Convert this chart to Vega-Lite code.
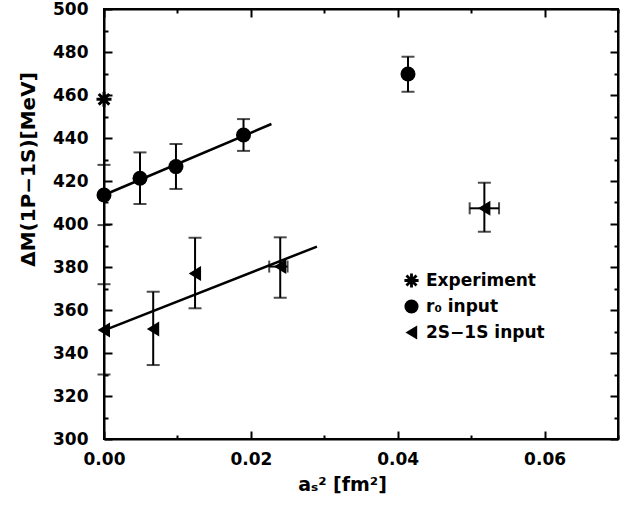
{
  "$schema": "https://vega.github.io/schema/vega-lite/v6.json",
  "autosize": "none",
  "padding": {"left": 104, "top": 9, "right": 22, "bottom": 69},
  "width": 514,
  "height": 430,
  "background": "white",
  "config": {
    "view": {"stroke": "black", "strokeWidth": 2},
    "axis": {
      "domainColor": "black", "domainWidth": 2,
      "tickColor": "black", "tickWidth": 2,
      "grid": false,
      "labelFont": "DejaVu Sans", "labelFontWeight": "bold", "labelFontSize": 17, "labelColor": "black",
      "titleFont": "DejaVu Sans", "titleFontWeight": "bold", "titleColor": "black"
    },
    "legend": {
      "labelFont": "DejaVu Sans", "labelFontWeight": "bold", "labelFontSize": 17, "labelColor": "black"
    }
  },
  "datasets": {
    "pts": [
      {"series": "Experiment", "x": 0, "y": 458},
      {"series": "r₀ input", "x": 0, "y": 413.5, "ylo": 399.5, "yhi": 427.5},
      {"series": "r₀ input", "x": 0.0049, "y": 421.3, "ylo": 409.3, "yhi": 433.3},
      {"series": "r₀ input", "x": 0.0098, "y": 426.7, "ylo": 416.3, "yhi": 437.2},
      {"series": "r₀ input", "x": 0.019, "y": 441.4, "ylo": 434, "yhi": 448.8},
      {"series": "r₀ input", "x": 0.0414, "y": 469.8, "ylo": 461.5, "yhi": 477.8},
      {"series": "2S−1S input", "x": 0, "y": 350.7, "ylo": 330, "yhi": 372},
      {"series": "2S−1S input", "x": 0.0067, "y": 351.2, "ylo": 334.4, "yhi": 368.5},
      {"series": "2S−1S input", "x": 0.0124, "y": 377, "ylo": 360.8, "yhi": 393.6},
      {"series": "2S−1S input", "x": 0.024, "y": 380.2, "ylo": 365.7, "yhi": 393.8, "xlo": 0.0225, "xhi": 0.025},
      {"series": "2S−1S input", "x": 0.0518, "y": 407.3, "ylo": 396.4, "yhi": 419.2, "xlo": 0.0498, "xhi": 0.0538}
    ],
    "fits": [
      {"fit": "r0", "x": 0, "y": 413.5},
      {"fit": "r0", "x": 0.0228, "y": 446.5},
      {"fit": "2S", "x": 0, "y": 350.5},
      {"fit": "2S", "x": 0.029, "y": 389.5}
    ]
  },
  "resolve": {"axis": {"x": "independent", "y": "independent"}},
  "layer": [
    {
      "data": {"name": "pts"},
      "mark": {"type": "rule", "color": "black", "strokeWidth": 2},
      "encoding": {
        "x": {"field": "x", "type": "quantitative",
          "scale": {"domain": [0, 0.07], "nice": false, "zero": false},
          "axis": {
            "orient": "bottom",
            "values": [0, 0.01, 0.02, 0.03, 0.04, 0.05, 0.06, 0.07],
            "format": ".2f",
            "labelExpr": "round(datum.value*100) % 2 === 0 && datum.value < 0.065 ? datum.label : ''",
            "tickSize": {"condition": {"test": "round(datum.value*100) % 2 === 0", "value": -8}, "value": -4},
            "labelPadding": 20,
            "labelFlush": false,
            "title": "aₛ² [fm²]",
            "titleFontSize": 19,
            "titlePadding": 8,
            "titleX": 238
          }
        },
        "y": {"field": "ylo", "type": "quantitative",
          "scale": {"domain": [300, 500], "nice": false, "zero": false},
          "axis": {
            "orient": "left",
            "values": [300, 310, 320, 330, 340, 350, 360, 370, 380, 390, 400, 410, 420, 430, 440, 450, 460, 470, 480, 490, 500],
            "labelExpr": "datum.value % 20 === 0 ? datum.label : ''",
            "tickSize": {"condition": {"test": "datum.value % 20 === 0", "value": -8}, "value": -4},
            "labelPadding": 24,
            "labelFlush": false,
            "title": "ΔM(1P−1S)[MeV]",
            "titleFontSize": 20,
            "titlePadding": 14,
            "titleY": 160
          }
        },
        "y2": {"field": "yhi"}
      }
    },
    {
      "data": {"name": "pts"},
      "mark": {"type": "tick", "orient": "horizontal", "color": "black", "thickness": 2, "size": 13},
      "encoding": {
        "x": {"field": "x", "type": "quantitative", "scale": {"domain": [0, 0.07], "nice": false, "zero": false}, "axis": null},
        "y": {"field": "ylo", "type": "quantitative", "scale": {"domain": [300, 500], "nice": false, "zero": false}, "axis": null}
      }
    },
    {
      "data": {"name": "pts"},
      "mark": {"type": "tick", "orient": "horizontal", "color": "black", "thickness": 2, "size": 13},
      "encoding": {
        "x": {"field": "x", "type": "quantitative", "scale": {"domain": [0, 0.07], "nice": false, "zero": false}, "axis": null},
        "y": {"field": "yhi", "type": "quantitative", "scale": {"domain": [300, 500], "nice": false, "zero": false}, "axis": null}
      }
    },
    {
      "data": {"name": "pts"},
      "mark": {"type": "rule", "color": "black", "strokeWidth": 2},
      "encoding": {
        "x": {"field": "xlo", "type": "quantitative", "scale": {"domain": [0, 0.07], "nice": false, "zero": false}, "axis": null},
        "x2": {"field": "xhi"},
        "y": {"field": "y", "type": "quantitative", "scale": {"domain": [300, 500], "nice": false, "zero": false}, "axis": null}
      }
    },
    {
      "data": {"name": "pts"},
      "mark": {"type": "tick", "orient": "vertical", "color": "black", "thickness": 2, "size": 12},
      "encoding": {
        "x": {"field": "xlo", "type": "quantitative", "scale": {"domain": [0, 0.07], "nice": false, "zero": false}, "axis": null},
        "y": {"field": "y", "type": "quantitative", "scale": {"domain": [300, 500], "nice": false, "zero": false}, "axis": null}
      }
    },
    {
      "data": {"name": "pts"},
      "mark": {"type": "tick", "orient": "vertical", "color": "black", "thickness": 2, "size": 12},
      "encoding": {
        "x": {"field": "xhi", "type": "quantitative", "scale": {"domain": [0, 0.07], "nice": false, "zero": false}, "axis": null},
        "y": {"field": "y", "type": "quantitative", "scale": {"domain": [300, 500], "nice": false, "zero": false}, "axis": null}
      }
    },
    {
      "data": {"name": "fits"},
      "mark": {"type": "line", "color": "black", "strokeWidth": 2.5},
      "encoding": {
        "detail": {"field": "fit"},
        "x": {"field": "x", "type": "quantitative", "scale": {"domain": [0, 0.07], "nice": false, "zero": false},
          "axis": {
            "orient": "top",
            "values": [0, 0.01, 0.02, 0.03, 0.04, 0.05, 0.06, 0.07],
            "labels": false,
            "title": null,
            "tickSize": {"condition": {"test": "round(datum.value*100) % 2 === 0", "value": -8}, "value": -4}
          }
        },
        "y": {"field": "y", "type": "quantitative", "scale": {"domain": [300, 500], "nice": false, "zero": false},
          "axis": {
            "orient": "right",
            "values": [300, 310, 320, 330, 340, 350, 360, 370, 380, 390, 400, 410, 420, 430, 440, 450, 460, 470, 480, 490, 500],
            "labels": false,
            "title": null,
            "tickSize": {"condition": {"test": "datum.value % 20 === 0", "value": -8}, "value": -4}
          }
        }
      }
    },
    {
      "data": {"name": "pts"},
      "mark": {"type": "point", "filled": true, "color": "black", "opacity": 1, "size": 225},
      "encoding": {
        "x": {"field": "x", "type": "quantitative", "scale": {"domain": [0, 0.07], "nice": false, "zero": false}, "axis": null},
        "y": {"field": "y", "type": "quantitative", "scale": {"domain": [300, 500], "nice": false, "zero": false}, "axis": null},
        "shape": {
          "field": "series", "type": "nominal",
          "scale": {
            "domain": ["Experiment", "r₀ input", "2S−1S input"],
            "range": [
              "M -0.2,-1 L 0.2,-1 L 0.2,1 L -0.2,1 Z M -1,-0.2 L 1,-0.2 L 1,0.2 L -1,0.2 Z M 0.566,-0.849 L 0.849,-0.566 L -0.566,0.849 L -0.849,0.566 Z M -0.849,-0.566 L -0.566,-0.849 L 0.849,0.566 L 0.566,0.849 Z",
              "circle",
              "M -0.85,0 L 0.8,-1 L 0.8,1 Z"
            ]
          },
          "legend": {
            "title": null,
            "orient": "none",
            "legendX": 299,
            "legendY": 263,
            "symbolSize": 200,
            "symbolFillColor": "black",
            "symbolStrokeColor": "black",
            "symbolStrokeWidth": 0,
            "symbolOpacity": 1,
            "labelOffset": 6,
            "rowPadding": 8
          }
        }
      }
    }
  ]
}
